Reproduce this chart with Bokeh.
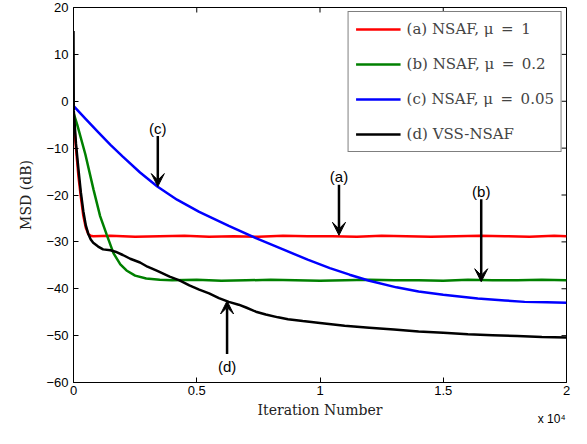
from bokeh.plotting import figure
from bokeh.models import (Range1d, FixedTicker, CustomJSTickFormatter, LinearAxis,
                          Legend, LegendItem, Arrow, VeeHead, Label)
from bokeh.embed import file_html
from bokeh.resources import INLINE

# ---------------- data ----------------
x_ticks = [0, 5000, 10000, 15000, 20000]
y_ticks = [-60, -50, -40, -30, -20, -10, 0, 10, 20]

red_x = [0, 100, 200, 300, 400, 500, 600, 700, 800, 1500, 2500, 3500, 4500, 5500, 6500,
         7500, 8500, 9500, 10500, 11500, 12500, 13500, 14500, 15500, 16500, 17500, 18500,
         19500, 20000]
red_y = [-3, -10, -16, -20.5, -24.5, -27, -28.3, -28.7, -28.8, -28.7, -28.9, -28.8, -28.7,
         -28.9, -28.8, -28.9, -28.7, -28.8, -28.8, -28.9, -28.7, -28.8, -28.9, -28.8, -28.7,
         -28.8, -28.9, -28.7, -28.8]

green_x = [0, 150, 480, 815, 1080, 1350, 1620, 1900, 2150, 2500, 2950, 3500, 4000, 5000,
           6000, 7000, 8000, 9000, 10000, 11000, 12000, 13000, 14000, 15000, 16000, 17000,
           18000, 19000, 20000]
green_y = [-2.5, -5, -11.3, -18.9, -24.5, -28.5, -32.4, -34.8, -36.1, -37.2, -37.8, -38.1,
           -38.2, -38.1, -38.3, -38.2, -38.1, -38.2, -38.3, -38.2, -38.1, -38.2, -38.2,
           -38.3, -38.1, -38.2, -38.2, -38.1, -38.2]

blue_x = [0, 500, 1000, 1500, 2000, 2700, 3400, 4200, 5100, 6300, 7400, 8500, 9500, 10400,
          11200, 12000, 13100, 14000, 15000, 16400, 17500, 18300, 19200, 20000]
blue_y = [-1, -3.8, -6.6, -9.3, -11.8, -15.2, -18.2, -21.0, -23.6, -26.6, -29.2, -31.6,
          -33.8, -35.6, -37.0, -38.3, -39.7, -40.6, -41.3, -42.1, -42.5, -42.8, -42.9, -43.0]

black_x = [0, 10, 100, 200, 300, 400, 500, 600, 700, 800, 1000, 1200, 1500, 1700, 2000,
           2300, 2700, 3000, 3400, 3900, 4300, 4700, 5100, 5500, 5900, 6300, 6700, 7000,
           7400, 7800, 8300, 8700, 9300, 10000, 11000, 12000, 13000, 14000, 15000, 16000,
           17000, 18000, 19000, 20000]
black_y = [15, -2, -9, -14.5, -19.5, -23.5, -26.5, -28.3, -29.5, -30.2, -31.0, -31.6,
           -31.8, -32.1, -32.8, -33.6, -34.4, -35.3, -36.2, -37.4, -38.2, -39.3, -40.2,
           -41.0, -42.0, -42.8, -43.4, -44.0, -44.9, -45.5, -46.1, -46.5, -46.9, -47.3,
           -47.9, -48.3, -48.7, -49.1, -49.4, -49.7, -49.9, -50.1, -50.3, -50.4]

series_labels = ["(a) NSAF, \u03bc\u2002=\u20021", "(b) NSAF, \u03bc\u2002=\u20020.2",
                 "(c) NSAF, \u03bc\u2002=\u20020.05", "(d) VSS-NSAF"]

ann_labels = ["(a)", "(b)", "(c)", "(d)"]
ann_x = [10770, 16540, 3420, 6230]
ann_text_y = [-16.1, -19.2, -5.8, -56.6]
ann_tail_y = [-17.8, -20.9, -7.4, -53.9]
ann_tip_y = [-28.6, -38.5, -18.2, -42.6]

x_label = "Iteration Number"
y_label = "MSD (dB)"
x_scale_note = "x 10\u2074"
x_scale_note_pos = [19400]

# ---------------- figure ----------------
p = figure(width=571, height=428, output_backend="svg", toolbar_location=None,
           x_range=Range1d(0, 20000), y_range=Range1d(-60, 20),
           min_border_left=73, min_border_right=5, min_border_top=7, min_border_bottom=43)
p.grid.visible = False
p.outline_line_color = "black"
p.outline_line_width = 1
p.background_fill_color = "white"
p.border_fill_color = "white"

p.xaxis.ticker = FixedTicker(ticks=x_ticks)
p.xaxis.formatter = CustomJSTickFormatter(code="return (tick/10000).toString();")
p.yaxis.ticker = FixedTicker(ticks=y_ticks)
p.yaxis.formatter = CustomJSTickFormatter(
    code="return tick < 0 ? '\\u2212' + Math.abs(tick) : tick.toString();")

for ax in p.axis:
    ax.major_tick_in = 5
    ax.major_tick_out = 0
    ax.minor_tick_line_color = None
    ax.axis_line_color = "black"
    ax.major_tick_line_color = "black"
    ax.major_label_text_font = "Liberation Sans"
    ax.major_label_text_font_size = "13px"
    ax.major_label_text_color = "black"
    ax.axis_label_text_font = "DejaVu Serif"
    ax.axis_label_text_font_size = "14px"
    ax.axis_label_text_font_style = "normal"
    ax.axis_label_text_color = "#222222"

p.xaxis.axis_label = x_label
p.yaxis.axis_label = y_label
p.xaxis.major_label_standoff = 3
p.xaxis.axis_label_standoff = 4
p.yaxis.major_label_standoff = 5
p.yaxis.axis_label_standoff = 9

# the "x 10^4" multiplier, shown as a tick label of a bare extra axis below
note_axis = LinearAxis(ticker=FixedTicker(ticks=x_scale_note_pos),
                       formatter=CustomJSTickFormatter(code="return '%s';" % x_scale_note),
                       axis_line_color=None, major_tick_line_color=None,
                       minor_tick_line_color=None, major_tick_in=0, major_tick_out=0,
                       major_label_standoff=-9, major_label_text_font="Liberation Sans",
                       major_label_text_font_size="12px", major_label_text_color="black")
p.add_layout(note_axis, "below")

# inner ticks on the top and right edges (half of each dash is clipped by the frame)
p.scatter(x_ticks[1:-1], [y_ticks[-1]] * 3, marker="dash", angle=1.5708, size=10,
          line_color="black", line_width=1)
p.scatter([x_ticks[-1]] * (len(y_ticks) - 2), y_ticks[1:-1], marker="dash", size=10,
          line_color="black", line_width=1)

r_red = p.line(red_x, red_y, line_color="#FF0000", line_width=2.5)
r_green = p.line(green_x, green_y, line_color="#008000", line_width=2.5)
r_blue = p.line(blue_x, blue_y, line_color="#0000FF", line_width=2.5)
r_black = p.line(black_x, black_y, line_color="black", line_width=2.5)

legend = Legend(items=[LegendItem(label=series_labels[0], renderers=[r_red]),
                       LegendItem(label=series_labels[1], renderers=[r_green]),
                       LegendItem(label=series_labels[2], renderers=[r_blue]),
                       LegendItem(label=series_labels[3], renderers=[r_black])],
                location="top_right")
legend.border_line_color = "black"
legend.border_line_width = 1
legend.background_fill_color = "white"
legend.background_fill_alpha = 1
legend.label_text_font = "DejaVu Serif"
legend.label_text_font_size = "15px"
legend.glyph_width = 45
legend.glyph_height = 20
legend.label_height = 20
legend.spacing = 15
legend.padding = 7
legend.margin = 4
legend.label_standoff = 6
p.add_layout(legend)

for lab, x, ty, sy, ey in zip(ann_labels, ann_x, ann_text_y, ann_tail_y, ann_tip_y):
    p.add_layout(Arrow(end=VeeHead(size=13, fill_color="black", line_color="black"),
                       x_start=x, y_start=sy, x_end=x, y_end=ey,
                       line_color="black", line_width=2.5))
    p.add_layout(Label(x=x, y=ty, text=lab, text_align="center", text_baseline="middle",
                       text_font="Liberation Sans", text_font_size="15px", text_color="black"))

open("out.html", "w").write(file_html(p, INLINE))
